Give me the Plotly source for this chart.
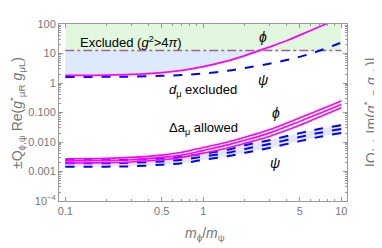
import numpy as np
import plotly.graph_objects as go

# ---------------- data ----------------
x_up_phi = [0.1, 0.2, 0.3, 0.5, 0.7, 1, 1.5, 2, 3, 4, 5, 6, 7, 8]
y_up_phi = [1.8, 1.85, 1.95, 2.25, 2.7, 3.6, 5.6, 8.5, 16.5, 27, 42, 60, 82, 108]

x_up_psi = [0.1, 0.2, 0.3, 0.5, 0.7, 1, 1.5, 2, 3, 4, 5, 6, 7, 8, 9, 10]
y_up_psi = [1.6, 1.62, 1.65, 1.75, 1.85, 2.1, 2.6, 3.2, 4.5, 6.0, 7.7, 9.9, 12.6, 15.8, 19.4, 23.5]

x_low = [0.1, 0.2, 0.3, 0.5, 0.7, 1, 1.5, 2, 3, 5, 7, 10]
phi_top = [0.0027, 0.0028, 0.0030, 0.0036, 0.0045, 0.0065, 0.0100, 0.0145, 0.026, 0.066, 0.125, 0.245]
phi_mid = [0.0023, 0.0024, 0.0025, 0.0030, 0.0036, 0.0052, 0.0080, 0.0114, 0.020, 0.050, 0.095, 0.188]
phi_bot = [0.0019, 0.0020, 0.0021, 0.0025, 0.0030, 0.0042, 0.0063, 0.0090, 0.0155, 0.037, 0.072, 0.144]
psi_top = [0.0024, 0.0024, 0.0025, 0.0028, 0.0032, 0.0040, 0.0055, 0.0078, 0.0115, 0.0200, 0.028, 0.037]
psi_mid = [0.0019, 0.0019, 0.0020, 0.0022, 0.0025, 0.0032, 0.0043, 0.0058, 0.0085, 0.0148, 0.0205, 0.0276]
psi_bot = [0.00145, 0.00146, 0.0015, 0.0017, 0.0019, 0.0025, 0.0033, 0.0043, 0.0063, 0.0107, 0.015, 0.0203]

g2_limit = 4 * np.pi
x_span = [0.1, 10]
y_top = 100

xtick_vals = [0.1, 0.5, 1, 5, 10]
xtick_text = ["0.1", "0.5", "1", "5", "10"]
ytick_vals = [1e-4, 1e-3, 1e-2, 1e-1, 1, 10, 100]
ytick_text = ["10<sup>−4</sup>", "0.001", "0.010", "0.100", "1", "10", "100"]

MAG = "#ff00ff"
BLUE = "#0000ff"
GREEN_FILL = "rgb(226,248,222)"
BLUE_FILL = "rgb(221,234,250)"
BAND_FILL = "rgb(228,230,250)"
PURPLE = "#a0609a"
GRAY = "#777777"
FONT = "Liberation Sans"

fig = go.Figure()

# green excluded region (g^2 > 4pi)
fig.add_trace(go.Scatter(x=x_span, y=[g2_limit, g2_limit], mode="lines",
                         line=dict(width=0), showlegend=False, hoverinfo="skip"))
fig.add_trace(go.Scatter(x=x_span, y=[y_top, y_top], mode="lines", fill="tonexty",
                         fillcolor=GREEN_FILL, line=dict(width=0), showlegend=False, hoverinfo="skip"))

# blue d_mu excluded region: between phi curve and 4pi line where phi < 4pi
xb = [x for x, y in zip(x_up_phi, y_up_phi) if y < g2_limit]
yb = [y for y in y_up_phi if y < g2_limit]
i = len(xb)
lx0, lx1 = np.log10(x_up_phi[i - 1]), np.log10(x_up_phi[i])
ly0, ly1 = np.log10(y_up_phi[i - 1]), np.log10(y_up_phi[i])
lc = lx0 + (np.log10(g2_limit) - ly0) * (lx1 - lx0) / (ly1 - ly0)
xb = xb + [10 ** lc]
yb = yb + [g2_limit]
fig.add_trace(go.Scatter(x=xb + xb[::-1], y=yb + [g2_limit] * len(xb), mode="lines",
                         fill="toself", fillcolor=BLUE_FILL, line=dict(width=0),
                         showlegend=False, hoverinfo="skip"))

# 4pi line
fig.add_trace(go.Scatter(x=x_span, y=[g2_limit, g2_limit], mode="lines",
                         line=dict(color=PURPLE, width=1.5, dash="dashdot"),
                         showlegend=False, hoverinfo="skip"))

# upper curves
fig.add_trace(go.Scatter(x=x_up_psi, y=y_up_psi, mode="lines", line_shape="spline",
                         line=dict(color=BLUE, width=2, dash="dash"), showlegend=False))
fig.add_trace(go.Scatter(x=x_up_phi, y=y_up_phi, mode="lines", line_shape="spline",
                         line=dict(color=MAG, width=1.8), showlegend=False))

# lower band (psi)
fig.add_trace(go.Scatter(x=x_low, y=psi_bot, mode="lines", line_shape="spline",
                         line=dict(width=0), showlegend=False, hoverinfo="skip"))
fig.add_trace(go.Scatter(x=x_low, y=psi_top, mode="lines", line_shape="spline", fill="tonexty",
                         fillcolor=BAND_FILL, line=dict(width=0), showlegend=False, hoverinfo="skip"))
for ys in (psi_top, psi_mid, psi_bot):
    fig.add_trace(go.Scatter(x=x_low, y=ys, mode="lines", line_shape="spline",
                             line=dict(color=BLUE, width=2, dash="dash"), showlegend=False))
for ys in (phi_top, phi_mid, phi_bot):
    fig.add_trace(go.Scatter(x=x_low, y=ys, mode="lines", line_shape="spline",
                             line=dict(color=MAG, width=1.6), showlegend=False))

# right axis (dummy trace to activate)
fig.add_trace(go.Scatter(x=[1], y=[1], yaxis="y2", mode="markers",
                         marker=dict(opacity=0), showlegend=False, hoverinfo="skip"))

axis_common = dict(showline=True, linecolor="#999999", linewidth=1, automargin=False,
                   ticks="inside", ticklen=4, tickcolor="#999999", showgrid=False,
                   zeroline=False, tickfont=dict(family=FONT, size=11, color=GRAY))
yminor = [k * 10.0 ** e for e in range(-4, 2) for k in range(2, 10)]

# page has an 8px body margin: figure is 374x240, plot area lands at page x 59-347, y 24-201
fig.update_layout(
    width=374, height=240,
    margin=dict(l=51, r=35, t=16, b=47),
    paper_bgcolor="white", plot_bgcolor="white",
    font=dict(family=FONT, color="black"),
    xaxis=dict(type="log", range=[np.log10(0.09), np.log10(11)],
               tickvals=xtick_vals, ticktext=xtick_text,
               minor=dict(ticks="inside", ticklen=2, tickcolor="#999999",
                          tickvals=[0.2, 0.3, 0.4, 0.6, 0.7, 0.8, 0.9, 2, 3, 4, 6, 7, 8, 9]),
               mirror="ticks", **axis_common),
    yaxis=dict(type="log", range=[-4, 2], tickvals=ytick_vals, ticktext=ytick_text,
               minor=dict(ticks="inside", ticklen=2, tickcolor="#999999", tickvals=yminor),
               mirror=False, **axis_common),
    yaxis2=dict(type="log", range=[-4, 2], overlaying="y", side="right",
                tickvals=ytick_vals, showticklabels=False,
                minor=dict(ticks="inside", ticklen=2, tickcolor="#999999", tickvals=yminor),
                **axis_common),
)

ann = []
def A(text, x, y, size=13, **kw):
    d = dict(text=text, x=x, y=y, xref="paper", yref="paper", showarrow=False,
             xanchor="center", yanchor="middle",
             font=dict(family=FONT, size=size, color=kw.pop("color", "black")))
    d.update(kw)
    ann.append(d)

def px(xp):
    return (xp - 59) / 288.0

def py(yp):
    return (201 - yp) / 177.0

A("Excluded (<i>g</i><sup>2</sup>>4<i>π</i>)", px(131), py(42))
A("<i>ϕ</i>", px(263), py(37), size=14)
A("<i>ψ</i>", px(263), py(80), size=14)
A("<i>d</i><sub>μ</sub> excluded", px(203), py(91))
A("Δa<sub>μ</sub> allowed", px(203), py(128))
A("<i>ϕ</i>", px(276), py(113), size=14)
A("<i>ψ</i>", px(275), py(163), size=14)
A("<i>m</i><sub>ϕ</sub>/<i>m</i><sub>ψ</sub>", px(205), py(234), size=14, color=GRAY)
A("±Q<sub>ϕ,ψ</sub> Re(<i>g</i><sup>*</sup><sub>μR</sub> <i>g</i><sub>μL</sub>)", px(17), py(113),
  size=14, color=GRAY, textangle=-90)
A("|Q<sub>ϕ,ψ</sub> Im(<i>g</i><sup>*</sup><sub>μR</sub> <i>g</i><sub>μL</sub>)|", px(371), py(113),
  size=14, color=GRAY, textangle=-90)
fig.update_layout(annotations=ann)

fig.write_html("out.html")
